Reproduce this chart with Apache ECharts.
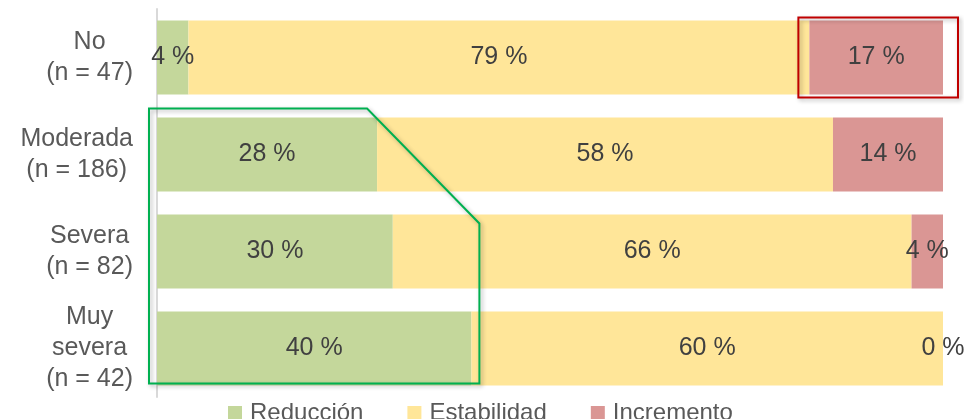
<!DOCTYPE html>
<html>
<head>
<meta charset="utf-8">
<script src="https://cdn.jsdelivr.net/npm/echarts@6/dist/echarts.min.js"></script>
<style>
  html, body { margin: 0; padding: 0; background: #fff; }
  #chart { width: 964px; height: 419px; }
</style>
</head>
<body>
<div id="chart"></div>
<script>
// Share of patients by change group, per severity level
const categories = ['No\n(n = 47)', 'Moderada\n(n = 186)', 'Severa\n(n = 82)', 'Muy\nsevera\n(n = 42)'];
const seriesNames = ['Reducción', 'Estabilidad', 'Incremento'];
const reduccion = [4, 28, 30, 40];
const estabilidad = [79, 58, 66, 60];
const incremento = [17, 14, 4, 0];

const colors = ['#c4d79b', '#ffe699', '#da9694'];
const FONT = "'Liberation Sans', Arial, sans-serif";
const GAP = 0.237;

const chart = echarts.init(document.getElementById('chart'), null, { renderer: 'canvas' });

function barSeries(name, data, color) {
  return {
    name: name,
    type: 'bar',
    stack: 'total',
    data: data,
    barCategoryGap: (GAP * 100) + '%',
    itemStyle: { color: color },
    label: {
      show: true,
      position: 'inside',
      formatter: '{c} %',
      fontFamily: FONT,
      fontSize: 25,
      color: '#404040'
    },
    emphasis: { disabled: true }
  };
}

chart.setOption({
  animation: false,
  color: colors,
  grid: { left: 157, right: 21, top: 9, bottom: 22, containLabel: false },
  legend: {
    data: seriesNames,
    left: 223,
    top: 396,
    itemWidth: 14,
    itemHeight: 14,
    itemGap: 44,
    icon: 'rect',
    textStyle: { fontFamily: FONT, fontSize: 24, color: '#595959', padding: [0, 0, 0, 3] }
  },
  xAxis: {
    type: 'value',
    min: 0,
    max: 100,
    show: false
  },
  yAxis: {
    type: 'category',
    data: categories,
    inverse: true,
    axisTick: { show: false },
    axisLine: { show: true, lineStyle: { color: '#d9d9d9', width: 2 } },
    axisLabel: {
      margin: 24,
      formatter: function (v) {
        return v.split('\n').map(function (s) { return '{c|' + s + '}'; }).join('\n');
      },
      rich: {
        c: { align: 'center', fontFamily: FONT, fontSize: 25, lineHeight: 31, color: '#595959' }
      }
    }
  },
  series: [
    barSeries(seriesNames[0], reduccion, colors[0]),
    barSeries(seriesNames[1], estabilidad, colors[1]),
    barSeries(seriesNames[2], incremento, colors[2])
  ]
});

// Highlight outlines placed relative to the bars
function buildOutlines() {
  function px(v, i) { return chart.convertToPixel({ gridIndex: 0 }, [v, i]); }
  const band = px(0, 1)[1] - px(0, 0)[1];
  const half = band * (1 - GAP) / 2;
  const shadow = { shadowBlur: 4, shadowColor: 'rgba(0,0,0,0.3)', shadowOffsetX: 2, shadowOffsetY: 2 };

  const noStart = px(reduccion[0] + estabilidad[0], 0);
  const noEnd = px(100, 0);
  const redBox = {
    type: 'rect',
    shape: {
      x: noStart[0] - 11,
      y: noStart[1] - half - 3,
      width: (noEnd[0] + 15) - (noStart[0] - 11),
      height: 2 * half + 6
    },
    style: Object.assign({ fill: 'none', stroke: '#c00000', lineWidth: 2 }, shadow),
    z: 100
  };

  const xLeft = px(0, 1)[0] - 8;
  const yTop = px(0, 1)[1] - half - 9;
  const cornerX = px(reduccion[1], 1)[0] - 10;
  const xRight = px(reduccion[3], 3)[0] + 8;
  const diagY = px(0, 2)[1] - half + 9;
  const yBottom = px(0, 3)[1] + half - 2;
  const greenOutline = {
    type: 'polygon',
    shape: { points: [[xLeft, yTop], [cornerX, yTop], [xRight, diagY], [xRight, yBottom], [xLeft, yBottom]] },
    style: Object.assign({ fill: 'none', stroke: '#00b050', lineWidth: 2 }, shadow),
    z: 100
  };
  return [redBox, greenOutline];
}

chart.setOption({ graphic: buildOutlines() });
</script>
</body>
</html>
